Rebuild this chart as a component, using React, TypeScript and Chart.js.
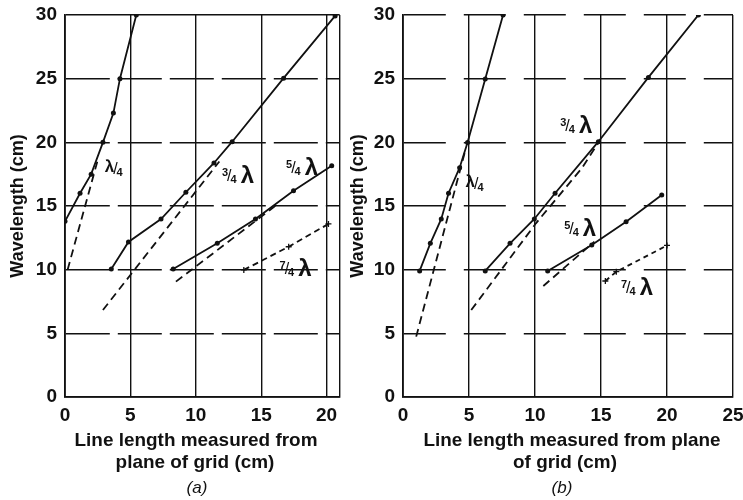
import React, { useEffect, useRef } from "react";
import { Chart, registerables } from "chart.js";

Chart.register(...registerables);

// ---------- shared axis values ----------
const Y_TICKS = [0, 5, 10, 15, 20, 25, 30];
const A_X_TICKS = [0, 5, 10, 15, 20, 21];
const B_X_TICKS = [0, 5, 10, 15, 20, 25];

// ---------- panel (a) ----------
const aQuarterX = [0, 1.15, 2.0, 2.9, 3.7, 4.2, 5.45];
const aQuarterY = [13.8, 16, 17.5, 20, 22.3, 25, 30];
const aQuarterDashX = [0.2, 2.5];
const aQuarterDashY = [10, 18.6];
const aThreeX = [3.54, 4.85, 7.34, 9.24, 11.39, 12.78, 16.71, 20.65];
const aThreeY = [10.05, 12.18, 13.98, 16.08, 18.38, 20.05, 25.04, 29.93];
const aThreeDashX = [2.9, 11.8];
const aThreeDashY = [6.83, 18.5];
const aFiveX = [8.27, 11.64, 14.56, 17.47, 20.39];
const aFiveY = [10.05, 12.07, 13.98, 16.2, 18.17];
const aFiveDashX = [8.48, 16.2];
const aFiveDashY = [9.06, 15.1];
const aSevenX = [13.67, 17.1, 20.14];
const aSevenY = [9.98, 11.8, 13.59];

// ---------- panel (b) ----------
const bQuarterX = [1.26, 2.07, 2.9, 3.45, 4.29, 4.89, 6.23, 7.58];
const bQuarterY = [9.9, 12.07, 13.98, 16, 18.01, 19.98, 24.98, 30];
const bQuarterDashX = [1.0, 4.7];
const bQuarterDashY = [4.74, 19.3];
const bThreeX = [6.23, 8.11, 9.95, 11.52, 14.8, 18.59, 22.38];
const bThreeY = [9.9, 12.07, 13.98, 16, 20.05, 25.1, 30];
const bThreeDashX = [5.17, 10.07, 13.55, 14.95];
const bThreeDashY = [6.83, 13.64, 17.97, 20.2];
const bFiveX = [10.96, 14.3, 16.9, 19.6];
const bFiveY = [9.9, 11.94, 13.77, 15.87];
const bFiveDashX = [10.63, 14.5];
const bFiveDashY = [8.72, 12.2];
const bSevenX = [15.33, 16.16, 20.0];
const bSevenY = [9.11, 9.84, 11.9];

// ---------- curve labels ----------
const aLabelText = ["λ/4", "3/4 λ", "5/4 λ", "7/4 λ"];
const aLabelX = [3.8, 13.3, 18.2, 17.7];
const aLabelY = [18.1, 17.4, 18.1, 10.1];
const bLabelText = ["λ/4", "3/4 λ", "5/4 λ", "7/4 λ"];
const bLabelX = [5.5, 13.2, 13.5, 17.8];
const bLabelY = [16.9, 21.4, 13.3, 8.6];

const Y_TITLE = "Wavelength (cm)";
const A_X_TITLE = ["Line length measured from", "plane of grid (cm)"];
const B_X_TITLE = ["Line length measured from plane", "of grid (cm)"];
const A_CAPTION = "(a)";
const B_CAPTION = "(b)";

const INK = "#111";
const TICK_FONT = '"Liberation Sans", "DejaVu Sans", sans-serif';

const zip = (xs: number[], ys: number[]) => xs.map((x, i) => ({ x, y: ys[i] }));

function solid(xs: number[], ys: number[]) {
  return {
    data: zip(xs, ys),
    borderColor: INK,
    backgroundColor: INK,
    borderWidth: 1.8,
    pointRadius: 2.5,
    pointBorderWidth: 0,
    pointBackgroundColor: INK,
    showLine: true,
    tension: 0,
  };
}
function dashed(xs: number[], ys: number[], dash: number[], marks = false) {
  return {
    data: zip(xs, ys),
    borderColor: INK,
    backgroundColor: INK,
    borderWidth: 1.8,
    borderDash: dash,
    pointRadius: marks ? 3 : 0,
    pointStyle: "cross",
    pointBorderColor: INK,
    pointBorderWidth: 1.3,
    showLine: true,
    tension: 0,
  };
}

function drawCurveLabel(ctx: CanvasRenderingContext2D, text: string, cx: number, cy: number) {
  ctx.save();
  ctx.fillStyle = INK;
  ctx.textBaseline = "alphabetic";
  ctx.textAlign = "left";
  const small = `bold 11px ${TICK_FONT}`;
  const slashF = `16px ${TICK_FONT}`;
  if (text.startsWith("λ")) {
    const lamF = `bold 17px ${TICK_FONT}`;
    const den = text.slice(2);
    ctx.font = lamF;
    const wl = ctx.measureText("λ").width;
    ctx.font = slashF;
    const ws = ctx.measureText("/").width;
    ctx.font = small;
    const wd = ctx.measureText(den).width;
    let x = cx - (wl + ws + wd) / 2;
    ctx.font = lamF;
    ctx.fillText("λ", x, cy + 5);
    x += wl - 1;
    ctx.font = slashF;
    ctx.fillText("/", x, cy + 7);
    x += ws;
    ctx.font = small;
    ctx.fillText(den, x - 1, cy + 9);
  } else {
    const num = text[0];
    const den = text[2];
    const lamF = `bold 24px ${TICK_FONT}`;
    ctx.font = small;
    const wn = ctx.measureText(num).width;
    const wd = ctx.measureText(den).width;
    ctx.font = slashF;
    const ws = ctx.measureText("/").width;
    ctx.font = lamF;
    const wl = ctx.measureText("λ").width;
    const gap = 4;
    let x = cx - (wn + ws + wd + gap + wl) / 2;
    ctx.font = small;
    ctx.fillText(num, x, cy + 1);
    x += wn - 1;
    ctx.font = slashF;
    ctx.fillText("/", x, cy + 6);
    x += ws - 1;
    ctx.font = small;
    ctx.fillText(den, x, cy + 8);
    x += wd + gap;
    ctx.font = lamF;
    ctx.fillText("λ", x, cy + 8);
  }
  ctx.restore();
}

function drawSqueezed(ctx: CanvasRenderingContext2D, text: string, cx: number, cy: number, sx: number) {
  ctx.save();
  ctx.translate(cx, cy);
  ctx.scale(sx, 1);
  ctx.fillText(text, 0, 0);
  ctx.restore();
}

function makeConfig(p: {
  datasets: any[];
  xMax: number;
  xTicks: number[];
  labelText: string[];
  labelX: number[];
  labelY: number[];
  xTitle: string[];
  titleWidth: number;
  caption: string;
  titleOffsets: number[];
  captionOffset: number;
  yWidth: number;
  yTitlePad: number;
  rightPad: number;
  solidTop: boolean;
  hDash: number[];
}) {
  const textPlugin = {
    id: "texts",
    afterDatasetsDraw(chart: any) {
      const { ctx, chartArea, scales } = chart;
      for (let i = 0; i < p.labelText.length; i++) {
        drawCurveLabel(
          ctx,
          p.labelText[i],
          scales.x.getPixelForValue(p.labelX[i]),
          scales.y.getPixelForValue(p.labelY[i])
        );
      }
      ctx.save();
      ctx.fillStyle = INK;
      ctx.textAlign = "center";
      ctx.textBaseline = "middle";
      ctx.font = `bold 19px ${TICK_FONT}`;
      const sx = p.titleWidth / ctx.measureText(p.xTitle[0]).width;
      drawSqueezed(ctx, p.xTitle[0], chartArea.left + p.titleOffsets[0], chartArea.bottom + 44, sx);
      drawSqueezed(ctx, p.xTitle[1], chartArea.left + p.titleOffsets[1], chartArea.bottom + 66, sx);
      ctx.font = `italic 17px ${TICK_FONT}`;
      ctx.fillText(p.caption, chartArea.left + p.captionOffset, chartArea.bottom + 91);
      ctx.restore();
    },
  };
  return {
    type: "scatter",
    data: { datasets: p.datasets },
    plugins: [textPlugin],
    options: {
      responsive: false,
      animation: false,
      devicePixelRatio: 1,
      layout: { padding: { left: 0, top: 15, right: p.rightPad, bottom: 0 } },
      plugins: { legend: { display: false }, tooltip: { enabled: false } },
      scales: {
        x: {
          type: "linear",
          min: 0,
          max: p.xMax,
          afterBuildTicks: (s: any) => {
            s.ticks = p.xTicks.map((v) => ({ value: v }));
          },
          afterFit: (s: any) => {
            s.height = 103;
            s.paddingLeft = 0;
            s.paddingRight = 0;
          },
          ticks: {
            callback: (v: number) => (v % 5 === 0 ? String(v) : ""),
            font: { family: TICK_FONT, size: 19, weight: "bold" },
            color: INK,
            padding: 7,
            maxRotation: 0,
            autoSkip: false,
          },
          grid: { color: INK, lineWidth: 1.4, drawTicks: false },
          border: { display: true, color: INK, width: 1.8 },
        },
        y: {
          type: "linear",
          min: 0,
          max: 30,
          afterBuildTicks: (s: any) => {
            s.ticks = Y_TICKS.map((v) => ({ value: v }));
          },
          afterFit: (s: any) => {
            s.width = p.yWidth;
            s.paddingTop = 0;
            s.paddingBottom = 0;
          },
          ticks: {
            font: { family: TICK_FONT, size: 19, weight: "bold" },
            color: INK,
            padding: 8,
          },
          grid: { color: INK, lineWidth: 1.4, drawTicks: false },
          border: {
            display: true,
            color: INK,
            width: 1.8,
            dash: (c: any) => {
              const v = c.tick ? c.tick.value : 0;
              if (v <= 0) return [];
              if (v >= 30 && p.solidTop) return [];
              return p.hDash;
            },
          },
          title: {
            display: true,
            text: Y_TITLE,
            color: INK,
            font: { family: TICK_FONT, size: 18, weight: "bold", lineHeight: 1.2 },
            padding: { top: p.yTitlePad, bottom: 0 },
          },
        },
      },
    },
  };
}

const configA = makeConfig({
  datasets: [
    solid(aQuarterX, aQuarterY),
    dashed(aQuarterDashX, aQuarterDashY, [8, 5]),
    solid(aThreeX, aThreeY),
    dashed(aThreeDashX, aThreeDashY, [8, 5]),
    solid(aFiveX, aFiveY),
    dashed(aFiveDashX, aFiveDashY, [8, 5]),
    dashed(aSevenX, aSevenY, [6, 4], true),
  ],
  xMax: 21,
  xTicks: A_X_TICKS,
  labelText: aLabelText,
  labelX: aLabelX,
  labelY: aLabelY,
  xTitle: A_X_TITLE,
  titleWidth: 243,
  caption: A_CAPTION,
  titleOffsets: [131, 130],
  captionOffset: 132,
  yWidth: 65,
  yTitlePad: 7,
  rightPad: 3,
  solidTop: true,
  hDash: [44, 8],
});

const configB = makeConfig({
  datasets: [
    solid(bQuarterX, bQuarterY),
    dashed(bQuarterDashX, bQuarterDashY, [8, 5]),
    solid(bThreeX, bThreeY),
    dashed(bThreeDashX, bThreeDashY, [8, 5]),
    solid(bFiveX, bFiveY),
    dashed(bFiveDashX, bFiveDashY, [8, 5]),
    dashed(bSevenX, bSevenY, [5, 4], true),
  ],
  xMax: 25,
  xTicks: B_X_TICKS,
  labelText: bLabelText,
  labelX: bLabelX,
  labelY: bLabelY,
  xTitle: B_X_TITLE,
  titleWidth: 297,
  caption: B_CAPTION,
  titleOffsets: [169, 162],
  captionOffset: 159,
  yWidth: 58,
  yTitlePad: 2,
  rightPad: 10,
  solidTop: false,
  hDash: [42, 18],
});

function Panel({ left, width, config }: { left: number; width: number; config: any }) {
  const ref = useRef<HTMLCanvasElement>(null);
  useEffect(() => {
    const chart = new Chart(ref.current as HTMLCanvasElement, config);
    return () => chart.destroy();
  }, [config]);
  return (
    <div style={{ position: "absolute", left, top: 0, width, height: 500 }}>
      <canvas ref={ref} width={width} height={500} style={{ display: "block" }} />
    </div>
  );
}

export default function App() {
  return (
    <div
      style={{
        position: "fixed",
        left: 0,
        top: 0,
        width: 743,
        height: 500,
        background: "#ffffff",
        overflow: "hidden",
      }}
    >
      <Panel left={0} width={345} config={configA} />
      <Panel left={345} width={398} config={configB} />
    </div>
  );
}
